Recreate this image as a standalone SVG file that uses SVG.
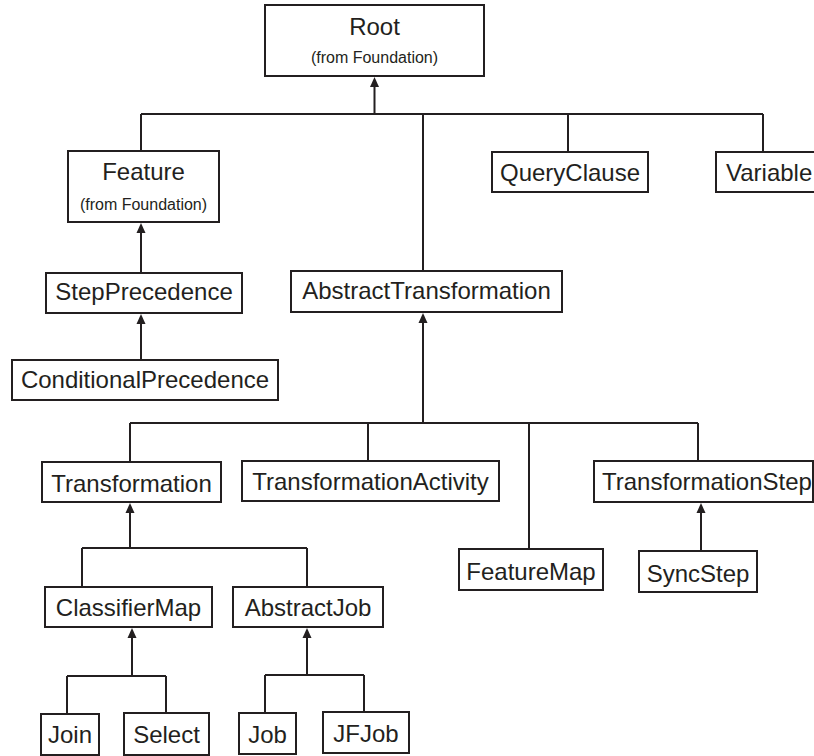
<svg xmlns="http://www.w3.org/2000/svg" width="814" height="756" viewBox="0 0 814 756">
  <style>
    .box { fill: #ffffff; stroke: #231f20; stroke-width: 2; }
    .t { font-family: "Liberation Sans", Arial, sans-serif; font-size: 24px; fill: #231f20; text-anchor: middle; }
    .s { font-family: "Liberation Sans", Arial, sans-serif; font-size: 16px; fill: #231f20; text-anchor: middle; }
    .c { fill: none; stroke: #231f20; stroke-width: 2; }
    .gen { fill: none; stroke: #231f20; stroke-width: 2; marker-end: url(#tri); }
  </style>
  <defs>
    <!-- generalization arrowhead, placed beyond the end of the line -->
    <marker id="tri" markerUnits="userSpaceOnUse" viewBox="0 0 10 10" markerWidth="10" markerHeight="10" refX="0" refY="5" orient="auto">
      <path d="M0,0.5 L10,5 L0,9.5 z" fill="#231f20"/>
    </marker>
  </defs>
  <rect width="814" height="756" fill="#ffffff"/>

  <!-- connectors -->
  <g id="connectors">
    <!-- Root children -->
    <path class="gen" d="M374.5,114 V87"/>
    <path class="c" d="M141,114 H763 M141,114 V151 M423,114 V271 M568,114 V152 M763,114 V152"/>
    <!-- Feature / StepPrecedence / ConditionalPrecedence -->
    <path class="gen" d="M141,273 V233"/>
    <path class="gen" d="M141,360 V324"/>
    <!-- AbstractTransformation children -->
    <path class="gen" d="M423,423 V323"/>
    <path class="c" d="M130,423 H698 M130,423 V462 M368,423 V461 M529,423 V549 M698,423 V461"/>
    <!-- TransformationStep / SyncStep -->
    <path class="gen" d="M701,551 V513"/>
    <!-- Transformation children -->
    <path class="gen" d="M130,548 V513"/>
    <path class="c" d="M82,548 H307 M82,548 V587 M307,548 V587"/>
    <!-- ClassifierMap children -->
    <path class="gen" d="M132,676 V638"/>
    <path class="c" d="M67,676 H166 M67,676 V714 M166,676 V713"/>
    <!-- AbstractJob children -->
    <path class="gen" d="M307,675 V638"/>
    <path class="c" d="M265,675 H364 M265,675 V713 M364,675 V712"/>
  </g>

  <!-- nodes -->
  <g id="root">
    <rect class="box" x="265" y="5" width="219" height="71"/>
    <text class="t" x="374.5" y="35">Root</text>
    <text class="s" x="374.5" y="63">(from Foundation)</text>
  </g>
  <g id="feature">
    <rect class="box" x="68" y="151" width="151" height="71"/>
    <text class="t" x="143.5" y="180">Feature</text>
    <text class="s" x="143.5" y="210">(from Foundation)</text>
  </g>
  <g id="queryclause">
    <rect class="box" x="492" y="152" width="156" height="40"/>
    <text class="t" x="570" y="181">QueryClause</text>
  </g>
  <g id="variable">
    <rect class="box" x="716" y="152" width="110" height="40"/>
    <text class="t" x="726" y="181" style="text-anchor:start">Variable</text>
  </g>
  <g id="stepprecedence">
    <rect class="box" x="46" y="273" width="196" height="40"/>
    <text class="t" x="144" y="300">StepPrecedence</text>
  </g>
  <g id="abstracttransformation">
    <rect class="box" x="291" y="271" width="271" height="41"/>
    <text class="t" x="426.5" y="299">AbstractTransformation</text>
  </g>
  <g id="conditionalprecedence">
    <rect class="box" x="12" y="360" width="266" height="40"/>
    <text class="t" x="145" y="388">ConditionalPrecedence</text>
  </g>
  <g id="transformation">
    <rect class="box" x="42" y="462" width="179" height="40"/>
    <text class="t" x="131.5" y="492">Transformation</text>
  </g>
  <g id="transformationactivity">
    <rect class="box" x="242" y="461" width="257" height="40"/>
    <text class="t" x="370.5" y="490">TransformationActivity</text>
  </g>
  <g id="transformationstep">
    <rect class="box" x="594" y="461" width="219" height="41"/>
    <text class="t" x="602" y="490" style="text-anchor:start">TransformationStep</text>
  </g>
  <g id="featuremap">
    <rect class="box" x="459" y="549" width="144" height="41"/>
    <text class="t" x="531" y="580">FeatureMap</text>
  </g>
  <g id="syncstep">
    <rect class="box" x="639" y="551" width="118" height="41"/>
    <text class="t" x="698" y="582">SyncStep</text>
  </g>
  <g id="classifiermap">
    <rect class="box" x="45" y="587" width="167" height="40"/>
    <text class="t" x="128.5" y="616">ClassifierMap</text>
  </g>
  <g id="abstractjob">
    <rect class="box" x="233" y="587" width="150" height="40"/>
    <text class="t" x="308" y="616">AbstractJob</text>
  </g>
  <g id="join">
    <rect class="box" x="41" y="714" width="58" height="41"/>
    <text class="t" x="70" y="743">Join</text>
  </g>
  <g id="select">
    <rect class="box" x="124" y="713" width="85" height="42"/>
    <text class="t" x="166.5" y="743">Select</text>
  </g>
  <g id="job">
    <rect class="box" x="239" y="713" width="57" height="41"/>
    <text class="t" x="267.5" y="743">Job</text>
  </g>
  <g id="jfjob">
    <rect class="box" x="323" y="712" width="86" height="41"/>
    <text class="t" x="366" y="742">JFJob</text>
  </g>
</svg>
